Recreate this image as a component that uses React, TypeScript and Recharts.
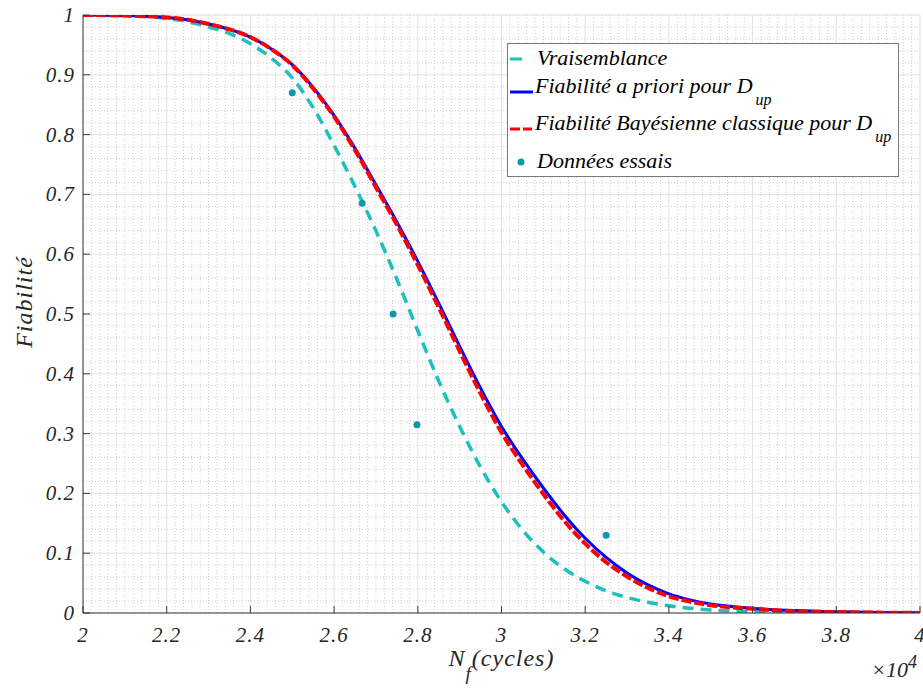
import React from "react";
import {
  ComposedChart,
  Line,
  Scatter,
  XAxis,
  YAxis,
  CartesianGrid,
  Legend,
  Label,
} from "recharts";

// x en 10^4 cycles
const cycles = [2.0, 2.1, 2.2, 2.25, 2.3, 2.35, 2.4, 2.45, 2.5, 2.55, 2.6, 2.65, 2.7, 2.75, 2.8, 2.85, 2.9, 2.95, 3.0, 3.05, 3.1, 3.15, 3.2, 3.25, 3.3, 3.35, 3.4, 3.45, 3.5, 3.6, 3.7, 3.8, 3.9, 4.0];
const vraisemblance = [1.0, 0.999, 0.994, 0.989, 0.98, 0.969, 0.952, 0.928, 0.895, 0.845, 0.782, 0.713, 0.639, 0.558, 0.472, 0.388, 0.312, 0.244, 0.186, 0.139, 0.102, 0.074, 0.053, 0.037, 0.026, 0.018, 0.012, 0.008, 0.005, 0.002, 0.0006, 0.0002, 0.0001, 0];
const fiabAPriori = [1.0, 0.999, 0.996, 0.992, 0.985, 0.976, 0.963, 0.943, 0.917, 0.879, 0.832, 0.777, 0.716, 0.654, 0.588, 0.518, 0.446, 0.376, 0.312, 0.258, 0.209, 0.164, 0.125, 0.093, 0.067, 0.047, 0.032, 0.022, 0.015, 0.008, 0.004, 0.002, 0.001, 0.0003];
const fiabBayes = [1.0, 0.999, 0.996, 0.992, 0.985, 0.976, 0.963, 0.943, 0.916, 0.877, 0.83, 0.774, 0.712, 0.649, 0.582, 0.511, 0.438, 0.367, 0.302, 0.248, 0.199, 0.154, 0.116, 0.085, 0.061, 0.042, 0.028, 0.019, 0.013, 0.007, 0.003, 0.0015, 0.0007, 0.0002];

const essaisCycles = [2.5, 2.667, 2.741, 2.798, 3.25];
const essaisFiab = [0.87, 0.685, 0.5, 0.315, 0.13];

const xTicks = [2, 2.2, 2.4, 2.6, 2.8, 3, 3.2, 3.4, 3.6, 3.8, 4];
const yTicks = [0, 0.1, 0.2, 0.3, 0.4, 0.5, 0.6, 0.7, 0.8, 0.9, 1];

// grille mineure (pas de 0.02)
const xMinor: number[] = [];
for (let i = 1; i < 100; i++) if (i % 10 !== 0) xMinor.push(2 + i / 50);
const yMinor: number[] = [];
for (let i = 1; i < 50; i++) if (i % 5 !== 0) yMinor.push(i / 50);

const rows = cycles.map((x, i) => ({
  x,
  vrais: vraisemblance[i],
  prior: fiabAPriori[i],
  bayes: fiabBayes[i],
}));
const essais = essaisCycles.map((x, i) => ({ x, y: essaisFiab[i] }));

const TXT = { fontFamily: "Liberation Serif", fontStyle: "italic" as const };
const AXIS = "#3a3a3a";
const CYAN = "#1cc0bc";
const BLUE = "#0000ff";
const RED = "#ff0000";
const DOT = "#1196b1";

const BottomTick = (props: any) => {
  const { x, y, payload } = props;
  return (
    <g>
      <line x1={x} y1={y} x2={x} y2={y - 7} stroke={AXIS} />
      <text x={x} y={y + 29} textAnchor="middle" style={{ ...TXT, fontSize: 21, letterSpacing: 1 }} fill="#262626">
        {payload.value}
      </text>
    </g>
  );
};

const LeftTick = (props: any) => {
  const { x, y, payload } = props;
  return (
    <g>
      <line x1={x} y1={y} x2={x + 7} y2={y} stroke={AXIS} />
      <text x={x - 8} y={y + 7} textAnchor="end" style={{ ...TXT, fontSize: 21, letterSpacing: 1 }} fill="#262626">
        {payload.value}
      </text>
    </g>
  );
};

const TopTick = (props: any) => {
  const { x, y } = props;
  return <line x1={x} y1={y} x2={x} y2={y + 7} stroke={AXIS} />;
};

const RightTick = (props: any) => {
  const { x, y } = props;
  return <line x1={x} y1={y} x2={x - 7} y2={y} stroke={AXIS} />;
};

const XTitle = (props: any) => {
  const { viewBox } = props;
  const cx = viewBox.x + viewBox.width / 2;
  return (
    <g fill="#262626">
      <text x={cx} y={viewBox.y + 53} textAnchor="middle" style={{ ...TXT, fontSize: 24, letterSpacing: 1 }}>
        N<tspan dy={14} style={{ fontSize: 19 }}>f</tspan>
        <tspan dy={-14}>(cycles)</tspan>
      </text>
      <text x={viewBox.x + viewBox.width - 3} y={viewBox.y + 64} textAnchor="end" style={{ ...TXT, fontSize: 22 }}>
        ×10<tspan dy={-9} style={{ fontSize: 18 }}>4</tspan>
      </text>
    </g>
  );
};

const YTitle = (props: any) => {
  const { viewBox } = props;
  const cy = viewBox.y + viewBox.height / 2 - 12;
  return (
    <text
      x={32}
      y={cy}
      transform={`rotate(-90, 32, ${cy})`}
      textAnchor="middle"
      style={{ ...TXT, fontSize: 24, letterSpacing: 1 }}
      fill="#262626"
    >
      Fiabilité
    </text>
  );
};

const LegendBox = () => (
  <div
    style={{
      width: 392,
      height: 134,
      boxSizing: "border-box",
      border: "1px solid #7a7a7a",
      background: "#fff",
    }}
  >
    <svg width={390} height={132} style={{ display: "block" }}>
      <g style={{ ...TXT, fontSize: 22 }} fill="#000">
        <line x1={2} y1={15} x2={14} y2={15} stroke={CYAN} strokeWidth={3} />
        <text x={29} y={21}>Vraisemblance</text>

        <line x1={2} y1={48} x2={25} y2={48} stroke={BLUE} strokeWidth={3} />
        <text x={27} y={49}>
          Fiabilité a priori pour D<tspan dx={3} dy={12} style={{ fontSize: 16 }}>up</tspan>
        </text>

        <line x1={2} y1={85} x2={24} y2={85} stroke={RED} strokeWidth={3} strokeDasharray="10 3" />
        <text x={27} y={86}>
          Fiabilité Bayésienne classique pour D<tspan dx={3} dy={12} style={{ fontSize: 16 }}>up</tspan>
        </text>

        <circle cx={13} cy={118} r={3.5} fill={DOT} />
        <text x={29} y={124}>Données essais</text>
      </g>
    </svg>
  </div>
);

export default function App() {
  return (
    <div style={{ position: "absolute", left: 0, top: 0, width: 923, height: 688, background: "#fff" }}>
      <ComposedChart
        width={923}
        height={688}
        data={rows}
        margin={{ top: 15, right: 3, bottom: 0, left: 0 }}
      >
        <XAxis xAxisId="minor" type="number" dataKey="x" domain={[2, 4]} ticks={xMinor} interval={0} allowDataOverflow hide />
        <YAxis yAxisId="minor" type="number" domain={[0, 1]} ticks={yMinor} interval={0} allowDataOverflow hide />
        <CartesianGrid xAxisId="minor" yAxisId="minor" stroke="#cfcfcf" strokeDasharray="1 2" />
        <CartesianGrid stroke="#e2e2e2" />

        <XAxis
          type="number"
          dataKey="x"
          domain={[2, 4]}
          ticks={xTicks}
          interval={0}
          allowDataOverflow
          height={75}
          tickSize={0}
          tickMargin={0}
          tickLine={false}
          axisLine={{ stroke: AXIS }}
          tick={<BottomTick />}
        >
          <Label content={<XTitle />} />
        </XAxis>
        <YAxis
          type="number"
          domain={[0, 1]}
          ticks={yTicks}
          interval={0}
          allowDataOverflow
          width={83}
          tickSize={0}
          tickMargin={0}
          tickLine={false}
          axisLine={{ stroke: AXIS }}
          tick={<LeftTick />}
        >
          <Label content={<YTitle />} />
        </YAxis>
        <XAxis
          xAxisId="top"
          orientation="top"
          type="number"
          dataKey="x"
          domain={[2, 4]}
          ticks={xTicks}
          interval={0}
          allowDataOverflow
          height={0}
          tickSize={0}
          tickMargin={0}
          tickLine={false}
          axisLine={{ stroke: AXIS }}
          tick={<TopTick />}
        />
        <YAxis
          yAxisId="right"
          orientation="right"
          type="number"
          domain={[0, 1]}
          ticks={yTicks}
          interval={0}
          allowDataOverflow
          width={0}
          tickSize={0}
          tickMargin={0}
          tickLine={false}
          axisLine={{ stroke: AXIS }}
          tick={<RightTick />}
        />

        <Line
          type="monotone"
          dataKey="vrais"
          name="Vraisemblance"
          stroke={CYAN}
          strokeWidth={3.5}
          strokeDasharray="11 7"
          dot={false}
          activeDot={false}
          isAnimationActive={false}
        />
        <Line
          type="monotone"
          dataKey="prior"
          name="Fiabilité a priori pour D_up"
          stroke={BLUE}
          strokeWidth={3}
          dot={false}
          activeDot={false}
          isAnimationActive={false}
        />
        <Line
          type="monotone"
          dataKey="bayes"
          name="Fiabilité Bayésienne classique pour D_up"
          stroke={RED}
          strokeWidth={4}
          strokeDasharray="10 3"
          dot={false}
          activeDot={false}
          isAnimationActive={false}
        />
        <Scatter
          data={essais}
          dataKey="y"
          name="Données essais"
          isAnimationActive={false}
          shape={(p: any) => <circle cx={p.cx} cy={p.cy} r={3.5} fill={DOT} />}
        />

        <Legend
          layout="vertical"
          align="center"
          verticalAlign="middle"
          content={() => <LegendBox />}
          wrapperStyle={{ position: "absolute", left: 507, top: 43, width: 392, height: 134 }}
        />
      </ComposedChart>
    </div>
  );
}
